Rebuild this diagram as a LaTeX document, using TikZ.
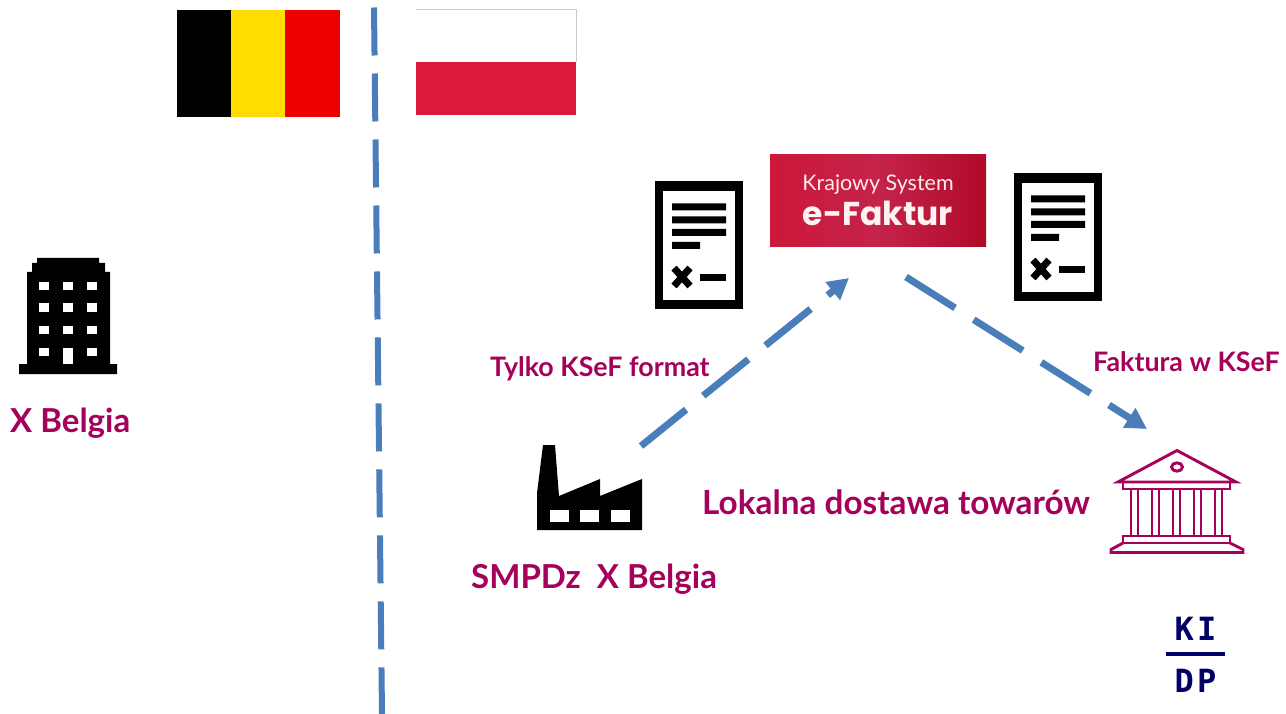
\documentclass[tikz,border=0pt]{standalone}
\usepackage{fontspec}
\setmainfont{Lato}
\newfontfamily\logofont{Lato}
\newfontfamily\logobold{Poppins}
\newfontfamily\kidpfont[LetterSpace=10]{DejaVu Sans Mono}
\usetikzlibrary{arrows.meta}
\definecolor{plum}{HTML}{A5005A}
\definecolor{dashblue}{HTML}{4A7EBB}
\definecolor{navyk}{HTML}{000066}
\definecolor{polred}{HTML}{DC1A3E}
\definecolor{belred}{HTML}{EF0000}
\definecolor{belyel}{HTML}{FFDD00}
\definecolor{boxl}{HTML}{CC1838}
\definecolor{boxm}{HTML}{C4234A}
\definecolor{boxr}{HTML}{B00A28}
\tikzset{
  lbl/.style={anchor=base west,inner sep=0pt,text=plum,font=\bfseries\fontsize{#1}{#1}\selectfont},
  flow/.style={draw=dashblue,line width=7pt,dash pattern=on 58pt off 22pt,-{Triangle[length=21pt,width=22pt]}},
  border/.style={draw=dashblue,line width=6pt,dash pattern=on 48pt off 18pt},
  temple/.style={draw=plum,line width=2.9pt,line join=miter},
  doctext/.style={fill=black},
}
\newcommand{\docicon}[2]{%
  \begin{scope}[shift={(#1,#2)}]
    \fill[black] (0,0) rectangle (88,128);
    \fill[white] (8,10) rectangle (80,119);
    \fill[doctext] (17,22.5) rectangle (71,29.5) (17,35.5) rectangle (71,42.5) (17,48) rectangle (71,55) (17,61) rectangle (45,68);
    \fill[doctext] (45,93) rectangle (71,100);
    \draw[black,line width=7pt] (19,87) -- (35,105) (19,105) -- (35,87);
  \end{scope}}
\begin{document}
\begin{tikzpicture}[x=1pt,y=-1pt]
\useasboundingbox (0,0) rectangle (1286,714);
\fill[white] (0,0) rectangle (1286,714);
% flags
\fill[black] (177,10) rectangle (231,117);
\fill[belyel] (231,10) rectangle (285,117);
\fill[belred] (285,10) rectangle (340,117);
\fill[polred] (416,62) rectangle (576,115);
\draw[black!20,line width=.8pt] (416,9) -- (576,9) -- (576,62);
% border
\coordinate (bt) at (374,7.5);
\coordinate (bb) at (382,714);
\draw[border] (bt) -- (bb);
% building
\fill[black] (37,258) -- (99,258) -- (99,263) -- (105,263) -- (105,272) -- (110,272) -- (110,364) -- (117,364) -- (117,374) -- (19,374) -- (19,364) -- (27,364) -- (27,272) -- (32,272) -- (32,263) -- (37,263) -- cycle;
\foreach \y/\h in {282/8,303/9,326/8,348/8}
  \foreach \x in {39,63,87}
    \fill[white] (\x,\y) rectangle ++(10,\h);
\fill[white] (63,348) rectangle (73,364);
\node[lbl=33] (xb) at (10,432) {X Belgia};
% factory
\fill[black] (543,445) -- (555,445) -- (559,496) -- (600,479) -- (600,496) -- (642,479) -- (642,530) -- (537,530) -- (537,493) -- cycle;
\foreach \x in {550,580,611}
  \fill[white] (\x,510) rectangle ++(18.5,12);
\node[lbl=33] (smp) at (471,588) {SMPDz\ \ X Belgia};
% KSeF box
\shade[left color=boxl,right color=boxr,middle color=boxm] (770,155) rectangle (986,247);
\node[anchor=center,inner sep=0pt,text=white!92!red,font=\logofont\fontsize{21.5}{21.5}\selectfont] (k1) at (878,185) {Krajowy System};
\node[anchor=center,inner sep=0pt,text=white!95!red,font=\logobold\bfseries\fontsize{33}{33}\selectfont] (k2) at (878,213) {e-Faktur};
% docs
\docicon{655}{181}
\docicon{1014}{173}
% arrows
\coordinate (a1s) at (641,446);
\coordinate (a1e) at (849,278);
\coordinate (a2s) at (906,277);
\coordinate (a2e) at (1147,429);
\draw[flow] (a1s) -- (a1e);
\draw[flow] (a2s) -- (a2e);
\node[lbl=26.8] (t1) at (490,376) {Tylko KSeF format};
\node[lbl=26.8] (t2) at (1093,371) {Faktura w KSeF};
\node[lbl=33.3] (t3) at (702,514) {Lokalna dostawa towarów};
% temple
\draw[temple] (1177,450.5) -- (1236,482) -- (1118,482) -- cycle;
\draw[temple] (1177,467) ellipse (5.5 and 4.2);
\draw[temple] (1123,482) rectangle (1230,489);
\foreach \x in {1131,1138,1152,1159,1173,1180,1194,1201,1215,1222}
  \draw[temple] (\x,489) -- (\x,536);
\draw[temple] (1123,536) rectangle (1230,543);
\draw[temple] (1123,543) -- (1111,549.5) -- (1111,552.5) -- (1243,552.5) -- (1243,549.5) -- (1230,543);
% KIDP
\node[anchor=base west,inner sep=0pt,text=navyk,font=\kidpfont\bfseries\fontsize{32}{32}\selectfont] (ki) at (1174.5,640) {KI};
\node[anchor=base west,inner sep=0pt,text=navyk,font=\kidpfont\bfseries\fontsize{32}{32}\selectfont] (dp) at (1174.5,692) {DP};
\fill[navyk] (1166,652) rectangle (1225,656);
\end{tikzpicture}
\end{document}
